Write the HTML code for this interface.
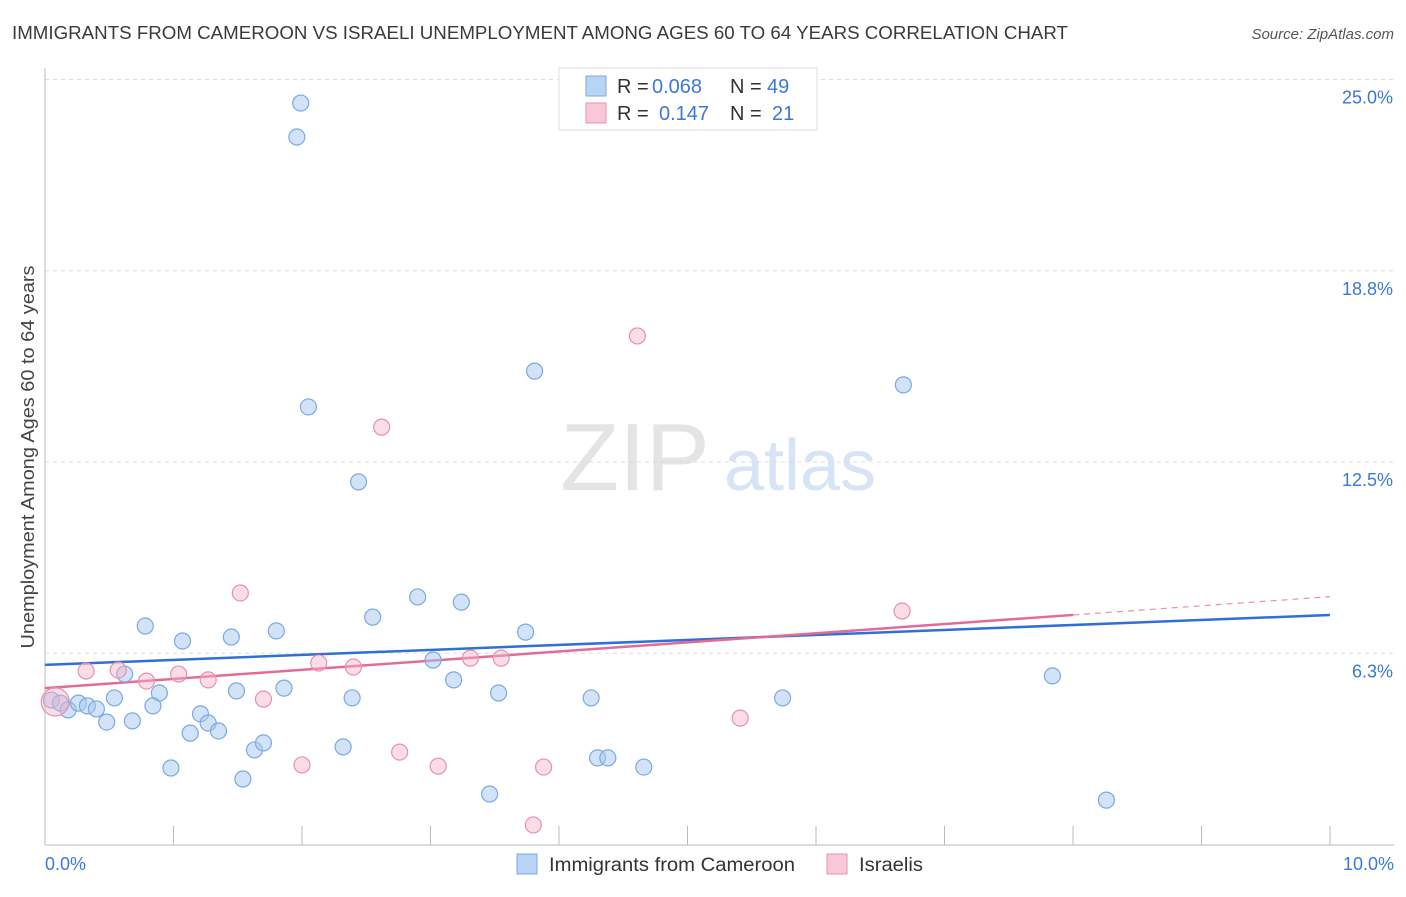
<!DOCTYPE html>
<html><head><meta charset="utf-8"><style>
body{margin:0;background:#fff;font-family:"Liberation Sans",sans-serif;}
svg text{font-family:"Liberation Sans",sans-serif;}
</style></head><body>
<svg id="chart" width="1406" height="892" xmlns="http://www.w3.org/2000/svg">
<text x="12" y="39" font-size="18" fill="#3a3a3a" textLength="1056" lengthAdjust="spacingAndGlyphs">IMMIGRANTS FROM CAMEROON VS ISRAELI UNEMPLOYMENT AMONG AGES 60 TO 64 YEARS CORRELATION CHART</text>
<text x="1394" y="39" font-size="15" fill="#555" text-anchor="end" font-style="italic">Source: ZipAtlas.com</text>
<g>
<text x="635" y="490" font-size="96" fill="#e4e4e4" text-anchor="middle" font-family="Liberation Serif">ZIP</text>
<text x="800" y="490" font-size="72" fill="#d6e4f5" text-anchor="middle">atlas</text></g>
<g id="grid"></g><g id="axes"></g><g id="lines"></g><g id="pts"></g>
<text transform="translate(34,457) rotate(-90)" font-size="18" fill="#444" text-anchor="middle" textLength="383" lengthAdjust="spacingAndGlyphs">Unemployment Among Ages 60 to 64 years</text>
<g>
<rect x="559" y="68" width="258" height="62" fill="#fff" stroke="#ddd"/>
<rect x="586" y="76" width="20" height="20" fill="#b8d4f4" stroke="#7aaae0"/>
<text x="617" y="93" font-size="20" fill="#333">R =</text>
<text x="652" y="93" font-size="20" fill="#3b78d8">0.068</text>
<text x="730" y="93" font-size="20" fill="#333">N =</text>
<text x="767" y="93" font-size="20" fill="#3b78d8">49</text>
<rect x="586" y="103" width="20" height="20" fill="#f8c8d6" stroke="#e890ae"/>
<text x="617" y="120" font-size="20" fill="#333">R =</text>
<text x="659" y="120" font-size="20" fill="#3b78d8">0.147</text>
<text x="730" y="120" font-size="20" fill="#333">N =</text>
<text x="772" y="120" font-size="20" fill="#3b78d8">21</text>
</g>
<g>
<rect x="517" y="854" width="20" height="20" fill="#b8d4f4" stroke="#7aaae0"/>
<text x="549" y="871" font-size="19" fill="#333" textLength="246" lengthAdjust="spacingAndGlyphs">Immigrants from Cameroon</text>
<rect x="827" y="854" width="20" height="20" fill="#f8c8d6" stroke="#e890ae"/>
<text x="859" y="871" font-size="19" fill="#333" textLength="64" lengthAdjust="spacingAndGlyphs">Israelis</text>
</g>
</svg>
<script>
const blueX=[0.05,0.12,0.18,0.26,0.33,0.40,0.48,0.54,0.62,0.68,0.78,0.89,0.84,0.98,1.07,1.13,1.21,1.27,1.35,1.45,1.49,1.54,1.63,1.70,1.80,1.86,1.99,1.96,2.05,2.32,2.39,2.44,2.55,2.90,3.02,3.18,3.24,3.46,3.53,3.74,3.81,4.25,4.30,4.38,4.66,5.74,6.68,7.84,8.26];
const blueY=[4.72,4.62,4.40,4.62,4.53,4.43,4.00,4.79,5.57,4.04,7.14,4.95,4.53,2.50,6.65,3.64,4.27,3.97,3.71,6.78,5.02,2.14,3.09,3.32,6.98,5.11,24.23,23.12,14.30,3.19,4.79,11.85,7.43,8.09,6.03,5.38,7.92,1.65,4.95,6.94,15.47,4.79,2.83,2.83,2.53,4.79,15.02,5.51,1.45];
const pinkX=[0.08,0.32,0.57,0.79,1.04,1.27,1.52,1.70,2.00,2.13,2.40,2.62,2.76,3.06,3.31,3.55,3.88,3.80,4.61,5.41,6.67];
const pinkY=[4.66,5.67,5.70,5.34,5.57,5.38,8.22,4.75,2.60,5.93,5.80,13.64,3.02,2.56,6.09,6.09,2.53,0.64,16.62,4.13,7.63];
const pinkR=[14,8,8,8,8,8,8,8,8,8,8,8,8,8,8,8,8,8,8,8,8];
const yTicks=[25.0,18.8,12.5,6.3];
const yTickVals=[25,18.75,12.5,6.25];
const blueTrend=[5.87,7.50];
const pinkTrend=[5.11,8.1];
const xs=v=>45+v*128.5, ys=v=>844.5-v*30.6;
const NS="http://www.w3.org/2000/svg";
function mk(t,a,p){const e=document.createElementNS(NS,t);for(const k in a)e.setAttribute(k,a[k]);p.appendChild(e);return e;}
const grid=document.getElementById('grid'),axes=document.getElementById('axes'),lines=document.getElementById('lines'),pts=document.getElementById('pts');
yTickVals.forEach((v,i)=>{
 const l=mk('line',{x1:45,x2:1394,y1:ys(v),y2:ys(v),stroke:'#ddd','stroke-dasharray':'4,4'},grid);
 
 
 const t=mk('text',{x:1393,y:ys(v)+24,'font-size':18,fill:'#3b78d8','text-anchor':'end'},axes);
 t.textContent=yTicks[i].toFixed(1)+'%';
 
 
});
let a=mk('line',{x1:45,x2:1394,y1:845,y2:845,stroke:'#bbb'},axes);


a=mk('line',{x1:45,x2:45,y1:68,y2:845,stroke:'#bbb'},axes);


for(let i=0;i<=10;i++){const t=mk('line',{x1:xs(i),x2:xs(i),y1:826,y2:845,stroke:'#bbb'},axes);
 
 }
[[0,'0.0%','start',45],[10,'10.0%','end',1394]].forEach(d=>{const t=mk('text',{x:d[3],y:870,'font-size':18,fill:'#3b78d8','text-anchor':d[2]},axes);t.textContent=d[1];
 
 });
blueX.forEach((x,i)=>{const c=mk('circle',{cx:xs(x),cy:ys(blueY[i]),r:8,fill:'rgba(165,200,240,0.5)',stroke:'#7aaae0','stroke-width':1.2},pts);
 
 });
pinkX.forEach((x,i)=>{const c=mk('circle',{cx:xs(x),cy:ys(pinkY[i]),r:pinkR[i],fill:'rgba(245,180,200,0.45)',stroke:'#e890ae','stroke-width':1.2},pts);
 
 });
let l=mk('line',{x1:xs(0),y1:ys(blueTrend[0]),x2:xs(10),y2:ys(blueTrend[1]),stroke:'#2f6fd6','stroke-width':2.5},lines);


const pk=x=>pinkTrend[0]+(pinkTrend[1]-pinkTrend[0])*x/10;
l=mk('line',{x1:xs(0),y1:ys(pk(0)),x2:xs(8),y2:ys(pk(8)),stroke:'#e36c96','stroke-width':2.5},lines);


l=mk('line',{x1:xs(8),y1:ys(pk(8)),x2:xs(10),y2:ys(pk(10)),stroke:'#e890ae','stroke-width':1.2,'stroke-dasharray':'6,5'},lines);


</script>
</body></html>
